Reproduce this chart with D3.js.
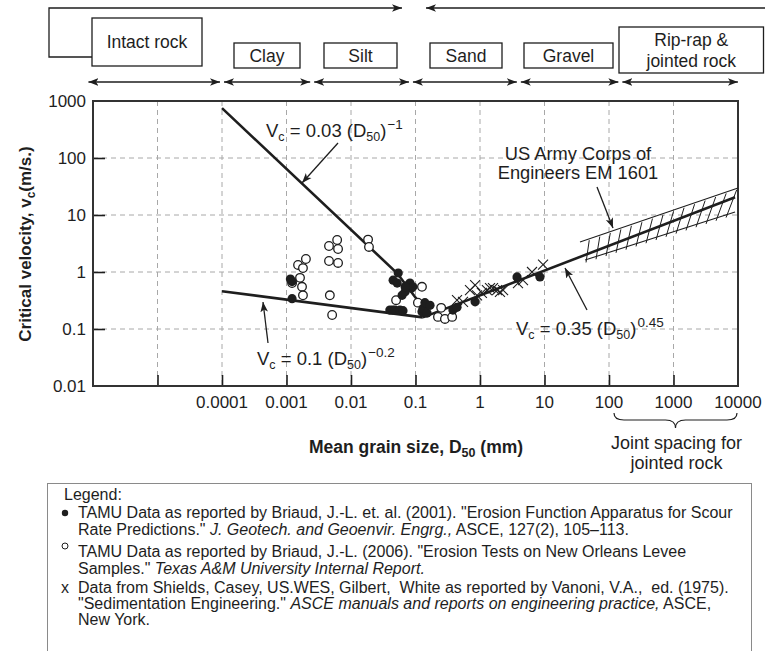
<!DOCTYPE html>
<html>
<head>
<meta charset="utf-8">
<script src="https://cdn.jsdelivr.net/npm/d3@7"></script>
<style>
  body { margin: 0; background: #fff; }
  svg { display: block; }
  text { font-family: "Liberation Sans", Arial, Helvetica, sans-serif; fill: #1e1e1e; white-space: pre; }
</style>
</head>
<body>
<svg id="chart" width="765" height="651"></svg>
<script>
// ---- axis ticks ----
const xTickValues = [1e-5, 1e-4, 1e-3, 1e-2, 1e-1, 1, 10, 100, 1000, 10000];
const xTickLabels = ["", "0.0001", "0.001", "0.01", "0.1", "1", "10", "100", "1000", "10000"];
const yTickValues = [0.01, 0.1, 1, 10, 100, 1000];
const yTickLabels = ["0.01", "0.1", "1", "10", "100", "1000"];

// ---- soil / rock classes and their grain-size limits (mm) ----
const soilClasses = ["Intact rock", "Clay", "Silt", "Sand", "Gravel", "Rip-rap & jointed rock"];
const classLimits = [8.5e-7, 1e-4, 0.0025, 0.085, 4, 150, 1.07e4];

// ---- measured critical velocities: [D50 (mm), Vc (m/s)] ----
const tamu2001 = [
  [0.00115, 0.75], [0.00122, 0.68], [0.00122, 0.34],
  [0.054, 0.96], [0.045, 0.72], [0.052, 0.64], [0.077, 0.59], [0.082, 0.64],
  [0.086, 0.52], [0.091, 0.55], [0.069, 0.45], [0.062, 0.39], [0.069, 0.55],
  [0.040, 0.215], [0.044, 0.215], [0.048, 0.215], [0.0575, 0.215], [0.064, 0.21],
  [0.126, 0.20], [0.131, 0.23], [0.14, 0.29], [0.151, 0.19], [0.168, 0.26],
  [0.38, 0.215], [0.44, 0.24], [0.84, 0.30], [3.75, 0.82], [8.5, 0.82]
];
const tamu2006 = [
  [0.0020, 1.69], [0.00151, 1.33], [0.0018, 1.17], [0.00162, 0.79], [0.00174, 0.55],
  [0.0018, 0.39], [0.00122, 0.64],
  [0.00456, 2.86], [0.0061, 3.64], [0.0063, 2.53], [0.00456, 1.56], [0.0063, 1.44],
  [0.0047, 0.39], [0.0051, 0.176],
  [0.0184, 3.7], [0.019, 2.75],
  [0.050, 0.32], [0.126, 0.55], [0.109, 0.29], [0.25, 0.235], [0.223, 0.163],
  [0.286, 0.15], [0.37, 0.163]
];
const shieldsData = [
  [0.44, 0.32], [0.545, 0.30], [0.70, 0.48], [0.84, 0.59], [0.90, 0.39], [1.07, 0.43],
  [1.28, 0.48], [1.43, 0.52], [1.59, 0.52], [1.84, 0.48], [2.04, 0.45], [2.28, 0.48],
  [3.88, 0.64], [4.64, 0.72], [6.4, 1.0], [9.5, 1.35]
];

// ---- trend lines ----
const fineLine = [[1e-4, 750], [0.052, 0.95], [0.13, 0.24]];     // Vc = 0.03 (D50)^-1
const clayLine = [[1e-4, 0.46], [0.13, 0.16]];                   // Vc = 0.1 (D50)^-0.2
const coarseLine = [[0.13, 0.16], [9000, 20.5]];                 // Vc = 0.35 (D50)^0.45
const corpsUpper = [[35.5, 3.36], [10000, 29.8]];                // EM 1601 band
const corpsLower = [[42.5, 1.62], [9000, 11.3]];

// ---- layout ----
const svg = d3.select("#chart");
const plot = { left: 93, right: 738, top: 101, bottom: 386 };
const x = d3.scaleLog().domain([1e-6, 1e4]).range([plot.left, plot.right]);
const y = d3.scaleLog().domain([0.01, 1000]).range([plot.bottom, plot.top]);
const ink = "#1e1e1e";

// arrow heads
const defs = svg.append("defs");
function marker(id, orient) {
  defs.append("marker").attr("id", id).attr("viewBox", "0 0 10 10")
    .attr("refX", 10).attr("refY", 5).attr("markerWidth", 10).attr("markerHeight", 10)
    .attr("markerUnits", "userSpaceOnUse").attr("orient", orient)
    .append("path").attr("d", "M0,1.2 L10,5 L0,8.8 L2.5,5 Z").attr("fill", ink);
}
marker("head", "auto");
marker("headBoth", "auto-start-reverse");

// ---- grid ----
const grid = svg.append("g").attr("stroke", "#a8a8a8").attr("stroke-width", 1)
  .attr("stroke-dasharray", "5,4");
grid.selectAll("line.v").data(xTickValues.slice(0, -1)).join("line")
  .attr("x1", d => x(d)).attr("x2", d => x(d))
  .attr("y1", plot.top).attr("y2", plot.bottom);
grid.selectAll("line.h").data(yTickValues.slice(1, -1)).join("line")
  .attr("x1", plot.left).attr("x2", plot.right)
  .attr("y1", d => y(d)).attr("y2", d => y(d));

// ---- axes (inward ticks) ----
const xAxis = d3.axisBottom(x).tickValues(xTickValues.slice(0, -1))
  .tickSizeInner(-11).tickSizeOuter(0).tickFormat("");
svg.append("g").attr("transform", `translate(0,${plot.bottom})`).call(xAxis)
  .call(g => g.select(".domain").remove())
  .call(g => g.selectAll("line").attr("stroke", ink).attr("stroke-width", 1.6));
const yAxis = d3.axisLeft(y).tickValues(yTickValues.slice(1, -1))
  .tickSizeInner(-12).tickSizeOuter(0).tickFormat("");
svg.append("g").attr("transform", `translate(${plot.left},0)`).call(yAxis)
  .call(g => g.select(".domain").remove())
  .call(g => g.selectAll("line").attr("stroke", ink).attr("stroke-width", 1.6));

svg.append("rect").attr("x", plot.left).attr("y", plot.top)
  .attr("width", plot.right - plot.left).attr("height", plot.bottom - plot.top)
  .attr("fill", "none").attr("stroke", "#333").attr("stroke-width", 2);

svg.append("g").selectAll("text").data(xTickValues).join("text")
  .attr("x", d => x(d)).attr("y", plot.bottom + 22)
  .attr("text-anchor", "middle").attr("font-size", 17)
  .text((d, i) => xTickLabels[i]);
svg.append("g").selectAll("text").data(yTickValues).join("text")
  .attr("x", plot.left - 7).attr("y", d => y(d) + 6)
  .attr("text-anchor", "end").attr("font-size", 17)
  .text((d, i) => yTickLabels[i]);

// ---- axis titles ----
const yTitle = svg.append("text").attr("transform", "translate(31,244) rotate(-90)")
  .attr("text-anchor", "middle").attr("font-size", 17).attr("font-weight", "bold");
yTitle.append("tspan").text("Critical velocity, v");
yTitle.append("tspan").attr("font-size", 12).attr("dy", 4).text("c");
yTitle.append("tspan").attr("dy", -4).text("(m/s.)");

const xTitle = svg.append("text").attr("x", 416).attr("y", 453)
  .attr("text-anchor", "middle").attr("font-size", 17.5).attr("font-weight", "bold");
xTitle.append("tspan").text("Mean grain size, D");
xTitle.append("tspan").attr("font-size", 12.5).attr("dy", 4).text("50");
xTitle.append("tspan").attr("dy", -4).text(" (mm)");

// ---- EM 1601 band with hatching ----
const lineGen = d3.line().x(d => x(d[0])).y(d => y(d[1]));
const band = svg.append("g").attr("stroke", ink).attr("fill", "none");
band.append("path").attr("d", lineGen(corpsUpper)).attr("stroke-width", 1.1);
band.append("path").attr("d", lineGen(corpsLower)).attr("stroke-width", 1.1);
const px = (pts, t) => [
  x(pts[0][0]) + t * (x(pts[1][0]) - x(pts[0][0])),
  y(pts[0][1]) + t * (y(pts[1][1]) - y(pts[0][1]))
];
band.selectAll("line.hatch").data(d3.range(15)).join("line")
  .attr("stroke-width", 1)
  .each(function (i) {
    const t = (i + 0.5) / 15;
    const a = px(corpsLower, t), b = px(corpsUpper, t);
    d3.select(this).attr("x1", a[0] - 4).attr("y1", a[1] + 4)
      .attr("x2", b[0] + 4).attr("y2", b[1]);
  });

// ---- trend lines ----
const trends = svg.append("g").attr("fill", "none").attr("stroke", ink).attr("stroke-width", 2.6);
[fineLine, clayLine, coarseLine].forEach(l => trends.append("path").attr("d", lineGen(l)));

// ---- data points ----
svg.append("g").selectAll("circle").data(tamu2006).join("circle")
  .attr("cx", d => x(d[0])).attr("cy", d => y(d[1])).attr("r", 4.3)
  .attr("fill", "#fff").attr("stroke", ink).attr("stroke-width", 1.3);
svg.append("g").selectAll("circle").data(tamu2001).join("circle")
  .attr("cx", d => x(d[0])).attr("cy", d => y(d[1])).attr("r", 4.6)
  .attr("fill", ink);
svg.append("g").selectAll("path").data(shieldsData).join("path")
  .attr("transform", d => `translate(${x(d[0])},${y(d[1])})`)
  .attr("d", "M-5,-5L5,5M-5,5L5,-5").attr("stroke", ink).attr("stroke-width", 1.1);

// ---- equation labels & pointers ----
function equation(tx, ty, coef, expo) {
  const t = svg.append("text").attr("x", tx).attr("y", ty).attr("font-size", 18.5);
  t.append("tspan").text("V");
  t.append("tspan").attr("font-size", 12.5).attr("dy", 4).text("c");
  t.append("tspan").attr("dy", -4).text(` = ${coef} (D`);
  t.append("tspan").attr("font-size", 12.5).attr("dy", 4).text("50");
  t.append("tspan").attr("dy", -4).text(")");
  t.append("tspan").attr("font-size", 13.5).attr("dy", -8).attr("dx", 1).text(expo);
}
equation(266, 137, "0.03", "\u22121");
equation(257, 365, "0.1", "\u22120.2");
equation(516, 335, "0.35", "0.45");

function pointer(x1, y1, x2, y2) {
  svg.append("line").attr("x1", x1).attr("y1", y1).attr("x2", x2).attr("y2", y2)
    .attr("stroke", ink).attr("stroke-width", 1.3).attr("marker-end", "url(#head)");
}
pointer(338, 143, 302, 183);
pointer(268, 343, 263, 302);
pointer(587, 310, 565, 268);
pointer(597, 187, 613, 228);

const corps = svg.append("text").attr("text-anchor", "middle").attr("font-size", 18.3);
corps.append("tspan").attr("x", 578).attr("y", 160).text("US Army Corps of");
corps.append("tspan").attr("x", 578).attr("y", 179).text("Engineers EM 1601");

// ---- joint spacing brace ----
const bx0 = x(100) + 5, bx1 = x(10000) - 1, bm = (bx0 + bx1) / 2, by = 413;
svg.append("path")
  .attr("d", `M${bx0},${by} q0,7 10,7 L${bm - 10},${by + 7} q10,0 10,8 q0,-8 10,-8 L${bx1 - 10},${by + 7} q10,0 10,-7`)
  .attr("fill", "none").attr("stroke", ink).attr("stroke-width", 1.2);
const joint = svg.append("text").attr("text-anchor", "middle").attr("font-size", 18);
joint.append("tspan").attr("x", bm + 1).attr("y", 449).text("Joint spacing for");
joint.append("tspan").attr("x", bm + 1).attr("y", 469).text("jointed rock");

// ---- classification header ----
const head = svg.append("g");
head.append("path").attr("d", "M92,57 H49 V8 H402").attr("fill", "none")
  .attr("stroke", ink).attr("stroke-width", 1.3).attr("marker-end", "url(#head)");
head.append("line").attr("x1", 770).attr("y1", 8).attr("x2", 426).attr("y2", 8)
  .attr("stroke", ink).attr("stroke-width", 1.3).attr("marker-end", "url(#head)");

// box extents for each class label [left, right, top, bottom]
const boxLayout = [[92, 202, 18, 66], [234, 300, 43, 68], [324, 397, 43, 68],
  [430, 502, 43, 68], [524, 613, 43, 68], [619, 763.5, 27, 73]];
soilClasses.forEach((name, i) => {
  const [l, r, t, b] = boxLayout[i];
  head.append("rect").attr("x", l).attr("y", t).attr("width", r - l).attr("height", b - t)
    .attr("fill", "#fff").attr("stroke", ink).attr("stroke-width", 1.3);
  const cx = (l + r) / 2;
  const words = name.includes("&") ? ["Rip-rap &", "jointed rock"] : [name];
  const txt = head.append("text").attr("text-anchor", "middle").attr("font-size", 17.5);
  words.forEach((w, k) => txt.append("tspan").attr("x", cx)
    .attr("y", (t + b) / 2 + 6 + (k - (words.length - 1) / 2) * 21).text(w));
  // range arrow for the class
  head.append("line")
    .attr("x1", x(classLimits[i]) + (i ? 2 : 0)).attr("x2", x(classLimits[i + 1]) - 2)
    .attr("y1", 82).attr("y2", 82)
    .attr("stroke", ink).attr("stroke-width", 1.3)
    .attr("marker-start", "url(#headBoth)").attr("marker-end", "url(#headBoth)");
});

// ---- legend ----
const lg = svg.append("g");
lg.append("rect").attr("x", 47.5).attr("y", 483.5).attr("width", 704).attr("height", 200)
  .attr("fill", "none").attr("stroke", "#8a8a8a").attr("stroke-width", 1);
const legendLines = [
  [64, 500, [["Legend:", false]]],
  [78, 518, [["TAMU Data as reported by Briaud, J.-L. et. al. (2001). \"Erosion Function Apparatus for Scour", false]]],
  [78, 535, [["Rate Predictions.\" ", false], ["J. Geotech. and Geoenvir. Engrg.,", true], [" ASCE, 127(2), 105\u2013113.", false]]],
  [78, 557, [["TAMU Data as reported by Briaud, J.-L. (2006). \"Erosion Tests on New Orleans Levee", false]]],
  [78, 574, [["Samples.\" ", false], ["Texas A&M University Internal Report.", true]]],
  [78, 593, [["Data from Shields, Casey, US.WES, Gilbert,  White as reported by Vanoni, V.A.,  ed. (1975).", false]]],
  [78, 609, [["\"Sedimentation Engineering.\" ", false], ["ASCE manuals and reports on engineering practice,", true], [" ASCE,", false]]],
  [78, 625, [["New York.", false]]]
];
legendLines.forEach(([lx, ly, parts]) => {
  const t = lg.append("text").attr("x", lx).attr("y", ly).attr("font-size", 16);
  parts.forEach(([s, it]) => t.append("tspan").attr("font-style", it ? "italic" : "normal").text(s));
});
lg.append("circle").attr("cx", 65).attr("cy", 513).attr("r", 3.2).attr("fill", ink);
lg.append("circle").attr("cx", 65).attr("cy", 546).attr("r", 3).attr("fill", "none")
  .attr("stroke", ink).attr("stroke-width", 1);
lg.append("text").attr("x", 65).attr("y", 593).attr("text-anchor", "middle")
  .attr("font-size", 16).text("x");
</script>
</body>
</html>
